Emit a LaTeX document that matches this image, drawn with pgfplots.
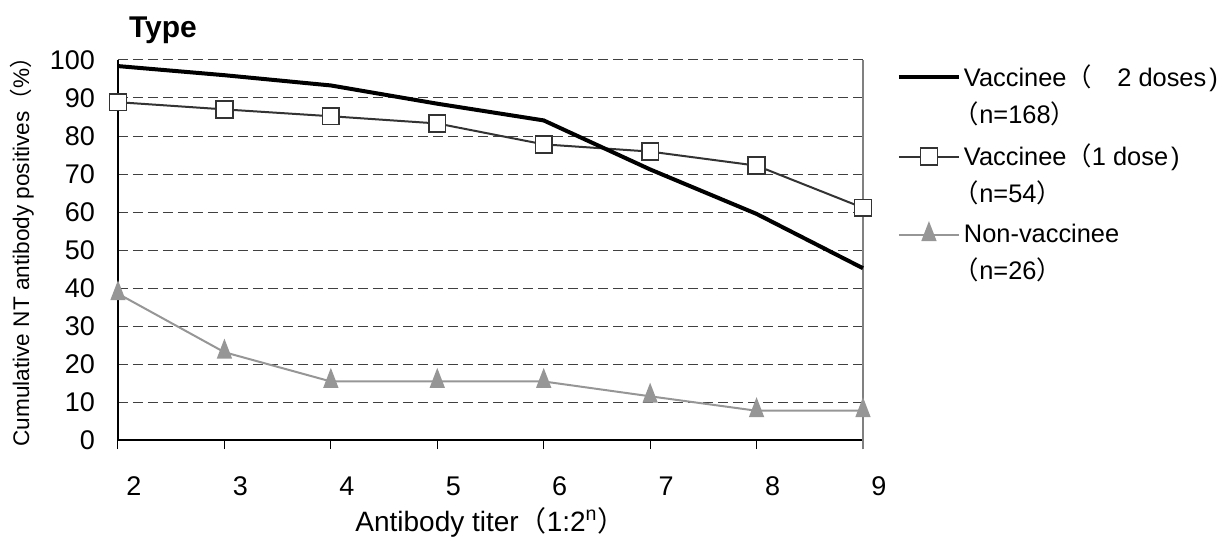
\documentclass[border=0pt]{standalone}
\usepackage{fontspec}
\setmainfont{Liberation Sans}
\newfontfamily\cjk{Noto Sans CJK JP}
\usepackage{pgfplots}
\pgfplotsset{compat=1.18}

\definecolor{dgray}{HTML}{333333}
\definecolor{lgray}{HTML}{969696}
\definecolor{gridc}{HTML}{404040}
\newcommand{\lp}{{\cjk （}}
\newcommand{\rp}{{\cjk ）}}
% plain closing paren at a line end, so no blank half-width trails it
\newcommand{\rpend}{\hspace{1.5pt})}
\newcommand{\second}[1]{\rlap{\smash{\raisebox{-18.5pt}{\hspace{-5pt}#1}}}}

\begin{document}
\begin{tikzpicture}
\begin{axis}[
    scale only axis,
    width=372.5pt, height=190pt,
    xmin=2, xmax=9, ymin=0, ymax=100,
    xtick={2,...,9}, ytick={0,10,...,100},
    axis x line*=bottom, axis y line*=left,
    axis line style={black, line width=0.6pt},
    tick align=outside, major tick length=4.5pt,
    xtick style={black, line width=0.5pt},
    ytick style={draw=none},
    ymajorgrids,
    major grid style={gridc, line width=0.5pt, dash pattern=on 5pt off 2.5pt},
    extra x ticks={9}, extra x tick labels={},
    extra x tick style={xmajorgrids=true, major grid style={solid, gray, line width=0.6pt}, xtick style={gray, line width=0.6pt}},
    tick label style={font=\fontsize{13.5}{15}\selectfont},
    /pgf/number format/assume math mode=true,
    xticklabel style={xshift=8pt, yshift=-10.5pt},
    yticklabel style={xshift=-3.5pt},
    xlabel={Antibody titer\lp 1:2\textsuperscript{n}\rp},
    ylabel={Cumulative NT antibody positives\lp\%\rp},
    xlabel style={at={(axis description cs:0.5,0)}, anchor=center, yshift=-41pt, font=\fontsize{14}{16}\selectfont},
    ylabel style={at={(axis description cs:-0.129,0.51)}, anchor=center, font=\fontsize{11.3}{13}\selectfont},
    title={Type},
    title style={at={(axis description cs:0,1)}, anchor=base west, xshift=2pt, yshift=5pt, font=\bfseries\fontsize{15}{17}\selectfont},
    clip=false,
    reverse legend,
    legend cell align=left,
    legend image code/.code={\draw[mark repeat=2,mark phase=2,#1] plot coordinates {(0pt,0pt) (15pt,0pt) (30pt,0pt)};},
    legend style={at={(rel axis cs:1.037,1.0)}, anchor=north west, draw=none, fill=none,
        font=\fontsize{12.7}{15}\selectfont, row sep=27.5pt,
        nodes={inner sep=0pt},
        /tikz/every odd column/.append style={column sep=1.5pt}},
]
\coordinate (O) at (rel axis cs:0,0);

\addplot[lgray, line width=1pt, mark=triangle*, mark size=3.6pt,
    mark options={solid, fill=lgray, draw=lgray, yscale=1.5}]
    coordinates {(2,38.5) (3,23.1) (4,15.4) (5,15.4) (6,15.4) (7,11.5) (8,7.7) (9,7.7)};
\addlegendentry{\second{\lp n=26\rp}Non-vaccinee}

\addplot[dgray, line width=1pt, mark=square*, mark size=4.2pt,
    mark options={solid, fill=white, draw=dgray, line width=0.8pt}]
    coordinates {(2,88.9) (3,87.0) (4,85.2) (5,83.3) (6,77.8) (7,75.9) (8,72.2) (9,61.1)};
\addlegendentry{\second{\lp n=54\rp}Vaccinee\lp 1 dose\rpend}

\addplot[black, line width=2pt, mark=none]
    coordinates {(2,98.4) (3,96.0) (4,93.3) (5,88.5) (6,84.1) (7,71.2) (8,59.5) (9,45.2)};
\addlegendentry{\second{\lp n=168\rp}Vaccinee\lp{\cjk 　}2 doses\rpend}
\end{axis}
\pgfresetboundingbox
\path (O) ++(-59pt,-50.5pt) rectangle ++(614pt,270.5pt);
\end{tikzpicture}
\end{document}
